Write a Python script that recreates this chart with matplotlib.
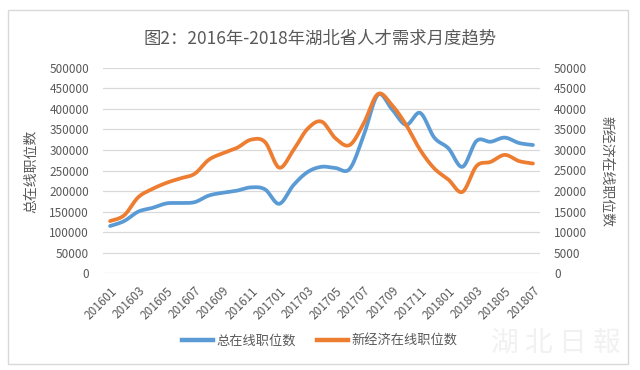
import numpy as np
import matplotlib
matplotlib.use("Agg")
import matplotlib.pyplot as plt
from matplotlib.patches import Rectangle
from matplotlib.lines import Line2D

plt.rcParams['font.family'] = ['Noto Sans CJK SC', 'DejaVu Sans']

months = ["201601", "201602", "201603", "201604", "201605", "201606", "201607", "201608",
          "201609", "201610", "201611", "201612", "201701", "201702", "201703", "201704",
          "201705", "201706", "201707", "201708", "201709", "201710", "201711", "201712",
          "201801", "201802", "201803", "201804", "201805", "201806", "201807"]
total_jobs = [115000, 127000, 150000, 159000, 170000, 171000, 173000, 189000,
              196000, 201000, 209000, 204000, 169000, 214000, 246000, 259000,
              256000, 254000, 336000, 434000, 399000, 361000, 390000, 330000,
              304000, 259000, 322000, 320000, 330000, 317000, 312000]
neweco_jobs = [12700, 14100, 18500, 20500, 22000, 23100, 24200, 27600,
               29200, 30500, 32500, 31900, 25700, 29900, 35100, 36900,
               32800, 31200, 36500, 43600, 40900, 36100, 30000, 25500,
               22800, 19800, 26100, 27100, 28800, 27300, 26700]
left_ticks = list(range(0, 500001, 50000))
right_ticks = list(range(0, 50001, 5000))
title = "图2：2016年-2018年湖北省人才需求月度趋势"
left_label = "总在线职位数"
right_label = "新经济在线职位数"
series_names = ["总在线职位数", "新经济在线职位数"]
watermark = "湖 北 日 報"

BLUE = "#5B9BD5"
ORANGE = "#ED7D31"
GRID = "#D9D9D9"
TXT = "#595959"


def smooth(y, n=20):
    """Catmull-Rom style smoothing (like Excel's smoothed line)."""
    y = np.asarray(y, dtype=float)
    x = np.arange(len(y), dtype=float)
    P = np.column_stack([x, y])
    out = []
    for i in range(len(P) - 1):
        p0 = P[i - 1] if i > 0 else P[i]
        p1 = P[i]
        p2 = P[i + 1]
        p3 = P[i + 2] if i + 2 < len(P) else P[i + 1]
        c1 = p1 + (p2 - p0) / 6.0
        c2 = p2 - (p3 - p1) / 6.0
        t = np.linspace(0, 1, n, endpoint=(i == len(P) - 2))[:, None]
        pts = ((1 - t) ** 3) * p1 + 3 * ((1 - t) ** 2) * t * c1 + 3 * (1 - t) * t ** 2 * c2 + t ** 3 * p2
        out.append(pts)
    out = np.vstack(out)
    return out[:, 0], out[:, 1]


W, H = 640, 370
fig = plt.figure(figsize=(W / 100, H / 100), dpi=100)
fig.patch.set_facecolor("white")

# outer chart frame
fig.patches.append(Rectangle((8 / W, 1 - 364 / H), (628 - 8) / W, (364 - 10) / H,
                             transform=fig.transFigure, fill=False,
                             edgecolor="#D9D9D9", lw=1.0))

# faint watermark (behind everything)
fig.text(556 / W, 1 - 343 / H, watermark, ha="center", va="center", fontsize=20,
         color="#F1F1F1", style="italic", zorder=0)

left, right_px, top, bottom = 103, 540, 67.7, 273.3
ax = fig.add_axes([left / W, 1 - bottom / H, (right_px - left) / W, (bottom - top) / H])
ax2 = ax.twinx()

x = np.arange(len(months))
bx, by = smooth(total_jobs)
ox, oy = smooth(neweco_jobs)

ax.plot(bx, by, color=BLUE, lw=2.7, solid_capstyle="round", zorder=3)
ax2.plot(ox, oy, color=ORANGE, lw=2.7, solid_capstyle="round", zorder=3)

ax.set_xlim(-0.5, len(months) - 0.5)
ax.set_ylim(0, 500000)
ax2.set_ylim(0, 50000)
ax.set_yticks(left_ticks)
ax.set_yticklabels([str(v) for v in left_ticks])
ax2.set_yticks(right_ticks)
ax2.set_yticklabels([str(v) for v in right_ticks])

ax.yaxis.grid(True, color=GRID, lw=0.9)
ax.set_axisbelow(True)
for a in (ax, ax2):
    for s in a.spines.values():
        s.set_visible(False)
    a.tick_params(length=0, colors=TXT, labelsize=8.5)
ax.tick_params(axis="y", pad=10)
ax2.tick_params(axis="y", pad=10)

ax.set_xticks(x[::2])
ax.set_xticklabels(months[::2])
ax.tick_params(axis="x", pad=8)
for lab in ax.get_xticklabels():
    lab.set_rotation(45)
    lab.set_ha("right")
    lab.set_rotation_mode("anchor")

ax.patch.set_visible(False)
ax2.patch.set_visible(False)

fig.text(31.5 / W, 1 - 171 / H, left_label, rotation=90, ha="center", va="center",
         fontsize=10, color=TXT)
fig.text(606 / W, 1 - 172 / H, right_label, rotation=-90, ha="center", va="center",
         fontsize=10, color=TXT)

fig.text(0.5, 1 - 38 / H, title, ha="center", va="center", fontsize=12.5, color=TXT)

handles = [Line2D([], [], color=BLUE, lw=3.2), Line2D([], [], color=ORANGE, lw=3.2)]
leg = fig.legend(handles, series_names, loc="center", bbox_to_anchor=(0.5, 1 - 341.5 / H),
                 ncol=2, frameon=False, fontsize=9.5, handlelength=2.3,
                 handletextpad=0.3, columnspacing=1.6)
for t in leg.get_texts():
    t.set_color(TXT)

fig.savefig("out.png", dpi=100, facecolor="white")
